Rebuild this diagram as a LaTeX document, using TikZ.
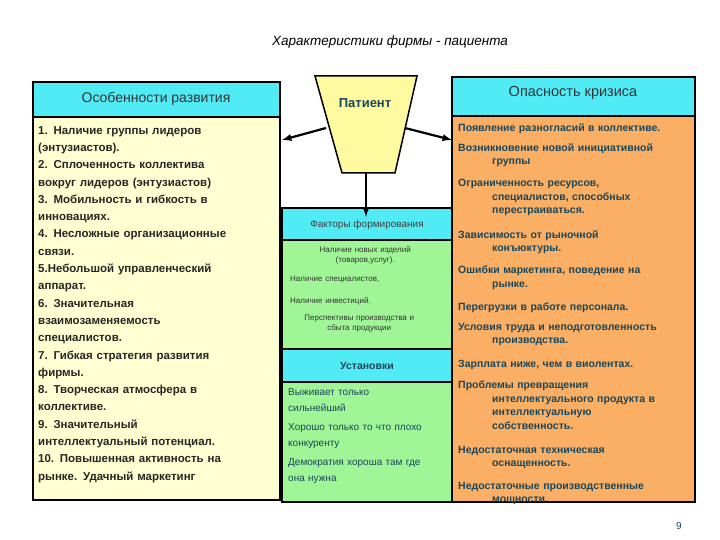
\documentclass[tikz,border=0pt]{standalone}
\usepackage{fontspec}
\setmainfont{Liberation Sans}
\definecolor{cyanh}{RGB}{80,235,245}
\definecolor{lyel}{RGB}{255,255,210}
\definecolor{trap}{RGB}{255,250,160}
\definecolor{lgreen}{RGB}{160,245,150}
\definecolor{orng}{RGB}{250,175,100}
\definecolor{teal}{RGB}{25,70,90}
\begin{document}
\begin{tikzpicture}[x=1pt,y=-1pt,
 box/.style={draw=black,line width=1.5pt},
 arr/.style={-latex,line width=2.2pt},
 rt/.style={anchor=north west,text=teal,font=\fontsize{10.5}{13.5}\selectfont\bfseries,text width=235pt,inner sep=0pt,align=left},
 ml/.style={anchor=north west,font=\fontsize{8}{10}\selectfont,text=black!80,text width=150pt,inner sep=0pt,align=center}]
\useasboundingbox (0,0) rectangle (720,540);
\node[font=\itshape\fontsize{13.5}{15}\selectfont] (title) at (390,42) {Характеристики фирмы - пациента};
% left
\fill[lyel,box] (33,117) rectangle (280,500);
\draw[box,fill=cyanh] (33,82) rectangle (280,117);
\node[font=\fontsize{14}{16}\selectfont,text=black!80] (lh) at (156,99) {Особенности развития};
\node[anchor=north west,inner sep=0pt,font=\bfseries\fontsize{11.5}{17.3}\selectfont,text width=240pt,align=left,text=black!85] (lt) at (38,126) {1. Наличие группы лидеров\\(энтузиастов).\\2. Сплоченность коллектива\\вокруг лидеров (энтузиастов)\\3. Мобильность и гибкость в\\инновациях.\\4. Несложные организационные\\связи.\\5.Небольшой управленческий\\аппарат.\\6. Значительная\\взаимозаменяемость\\специалистов.\\7. Гибкая стратегия развития\\фирмы.\\8. Творческая атмосфера в\\коллективе.\\9. Значительный\\интеллектуальный потенциал.\\10. Повышенная активность на\\рынке. Удачный маркетинг};
% middle
\draw[box,fill=lgreen] (282,240) rectangle (452,349);
\draw[box,fill=cyanh] (282,208) rectangle (452,240);
\node[font=\fontsize{10}{12}\selectfont,text=black!75] (fh) at (367,225) {Факторы формирования};
\node[ml] (m1) at (290,246) {Наличие новых изделий\\(товаров,услуг).};
\node[ml,align=left] (m2) at (290,276) {Наличие специалистов,};
\node[ml,align=left] (m3) at (290,297) {Наличие  инвестиций.};
\node[ml] (m4) at (284,315) {Перспективы производства и\\сбыта продукции};
\draw[box,fill=lgreen] (282,382) rectangle (452,502);
\draw[box,fill=cyanh] (282,349) rectangle (452,382);
\node[font=\bfseries\fontsize{10.5}{12}\selectfont,text=teal] (uh) at (367,366) {Установки};
\node[anchor=north west,inner sep=0pt,font=\fontsize{10}{16}\selectfont,text=teal,text width=165pt,align=left] (ut) at (288,388) {Выживает только\\сильнейший\\[3pt]Хорошо только то что плохо\\конкуренту\\[3pt]Демократия хороша там где\\она нужна};
% right
\draw[box,fill=orng] (452,116) rectangle (695,502);
\draw[box,fill=cyanh] (452,77) rectangle (695,116);
\node[font=\fontsize{14.5}{16}\selectfont,text=black!80] (rh) at (573,93) {Опасность кризиса};
\node[rt] (r1) at (458,123) {Появление разногласий в коллективе.};
\node[rt] (r2) at (458,143) {Возникновение новой инициативной\\\hspace*{34pt}группы};
\node[rt] (r3) at (458,179) {Ограниченность ресурсов,\\\hspace*{34pt}специалистов, способных\\\hspace*{34pt}перестраиваться.};
\node[rt] (r4) at (458,230) {Зависимость от рыночной\\\hspace*{34pt}конъюктуры.};
\node[rt] (r5) at (458,266) {Ошибки маркетинга, поведение на\\\hspace*{34pt}рынке.};
\node[rt] (r6) at (458,303) {Перегрузки в работе персонала.};
\node[rt] (r7) at (458,323) {Условия труда и неподготовленность\\\hspace*{34pt}производства.};
\node[rt] (r8) at (458,360) {Зарплата ниже, чем в виолентах.};
\node[rt] (r9) at (458,381) {Проблемы превращения\\\hspace*{34pt}интеллектуального продукта в\\\hspace*{34pt}интеллектуальную\\\hspace*{34pt}собственность.};
\node[rt] (r10) at (458,446) {Недостаточная техническая\\\hspace*{34pt}оснащенность.};
\node[rt] (r11) at (458,482) {Недостаточные производственные\\\hspace*{34pt}мощности.};
% trapezoid
\draw[box,fill=trap] (315,76) -- (417,76) -- (395,173) -- (342,173) -- cycle;
\node[font=\bfseries\fontsize{13}{15}\selectfont,text=teal] (pat) at (365,103) {Патиент};
\coordinate (tl) at (326,128); \coordinate (tr) at (405,128); \coordinate (tb) at (366,173);
\coordinate (al) at (282,140); \coordinate (ar) at (452,140);
\draw[arr] (tl) -- (al);
\draw[arr] (tr) -- (ar);
\draw[arr] (tb) -- (fh.north -| tb);
\node[font=\fontsize{10}{12}\selectfont,text=teal] (pg) at (679,526) {9};
\end{tikzpicture}
\end{document}
